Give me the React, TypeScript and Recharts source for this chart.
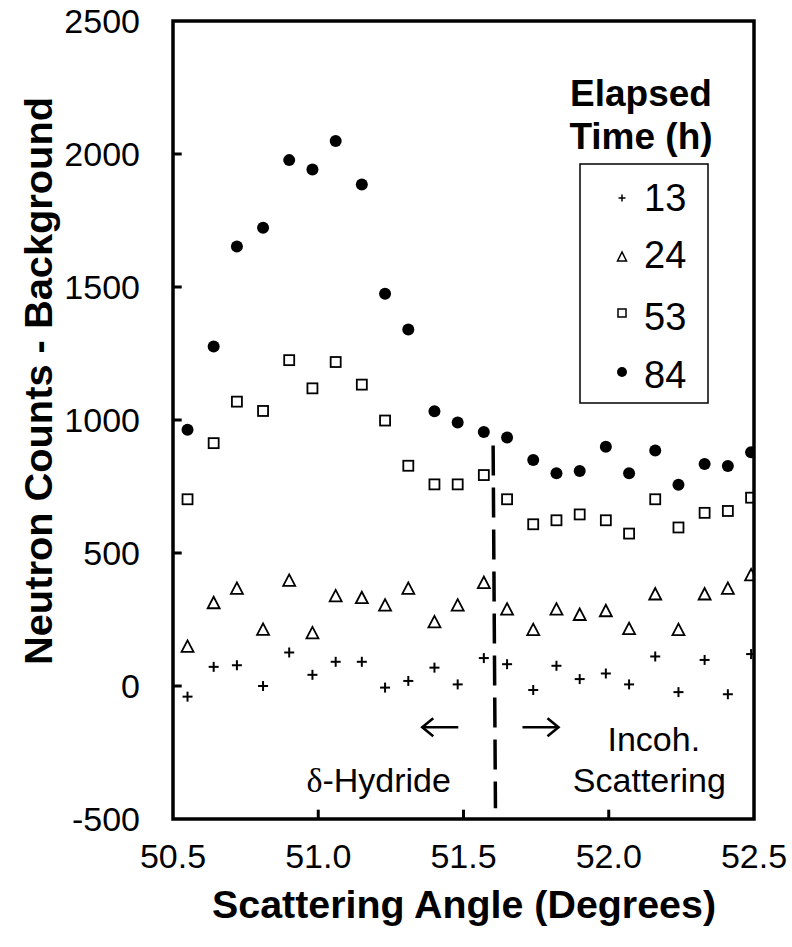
import React from 'react';
import {
  ScatterChart,
  Scatter,
  XAxis,
  YAxis,
  ReferenceArea,
  ReferenceLine,
  ReferenceDot,
  Legend,
  Label,
} from 'recharts';

// ---- data ----
const angles = [
  50.55, 50.64, 50.72, 50.81, 50.9, 50.98, 51.06, 51.15, 51.23, 51.31, 51.4, 51.48,
  51.57, 51.65, 51.74, 51.82, 51.9, 51.99, 52.07, 52.16, 52.24, 52.33, 52.41, 52.49,
];
const h13 = [-40, 72, 78, 0, 126, 42, 91, 91, -6, 19, 69, 6, 105, 82, -15, 76, 26, 47, 6, 111, -23, 98, -31, 120];
const h24 = [147, 311, 365, 211, 395, 198, 337, 330, 302, 365, 239, 302, 387, 287, 210, 287, 267, 281, 214, 344, 210, 344, 365, 416];
const h53 = [702, 913, 1069, 1034, 1225, 1119, 1218, 1133, 998, 828, 758, 758, 793, 702, 608, 623, 645, 623, 573, 702, 596, 651, 658, 708];
const h84 = [963, 1276, 1652, 1723, 1977, 1942, 2049, 1885, 1475, 1340, 1033, 991, 955, 934, 850, 800, 808, 899, 800, 885, 757, 835, 827, 879];

const seriesNames = ['13', '24', '53', '84'];
const xTicks = [50.5, 51.0, 51.5, 52.0, 52.5];
const yTicks = [-500, 0, 500, 1000, 1500, 2000, 2500];
const xInnerTicks = [51.0, 51.5, 52.0];
const yInnerTicks = [0, 500, 1000, 1500, 2000];

const xDomain = [50.5, 52.5];
const yDomain = [-500, 2500];

// divider line and annotations (data coordinates)
const dividerTop = { x: 51.602, y: 904 };
const dividerBottom = { x: 51.61, y: -460 };
const hydrideLabel = { x: 51.208, y: -397 };
const incohLabel = { x: 52.155, y: -245 };
const scatLabel = { x: 52.14, y: -397 };
const leftArrow = { x: 51.42, y: -155 };
const rightArrow = { x: 51.765, y: -155 };

const FONT = '"Liberation Sans", Arial, Helvetica, sans-serif';

const toPoints = (vals: number[]) => angles.map((a, i) => ({ x: a, y: vals[i] }));

// ---- marker shapes ----
const PlusShape = (p: any) => {
  const { cx, cy } = p;
  const s = 5;
  return (
    <g stroke="#000" strokeWidth={2}>
      <line x1={cx - s} y1={cy} x2={cx + s} y2={cy} />
      <line x1={cx} y1={cy - s} x2={cx} y2={cy + s} />
    </g>
  );
};
const TriShape = (p: any) => {
  const { cx, cy } = p;
  return (
    <polygon
      points={`${cx},${cy - 6.5} ${cx - 6},${cy + 5} ${cx + 6},${cy + 5}`}
      fill="none"
      stroke="#000"
      strokeWidth={1.8}
    />
  );
};
const SquareShape = (p: any) => {
  const { cx, cy } = p;
  return <rect x={cx - 5} y={cy - 5} width={10} height={10} fill="none" stroke="#000" strokeWidth={1.8} />;
};
const DotShape = (p: any) => {
  const { cx, cy } = p;
  return <circle cx={cx} cy={cy} r={6} fill="#000" />;
};

const legendSymbol = (name: string, x: number, y: number) => {
  if (name === '13')
    return (
      <g stroke="#000" strokeWidth={1.5}>
        <line x1={x - 3.5} y1={y} x2={x + 3.5} y2={y} />
        <line x1={x} y1={y - 3.5} x2={x} y2={y + 3.5} />
      </g>
    );
  if (name === '24')
    return (
      <polygon
        points={`${x},${y - 5} ${x - 4.5},${y + 4} ${x + 4.5},${y + 4}`}
        fill="none"
        stroke="#000"
        strokeWidth={1.5}
      />
    );
  if (name === '53')
    return <rect x={x - 4} y={y - 4} width={8} height={8} fill="none" stroke="#000" strokeWidth={1.5} />;
  return <circle cx={x} cy={y} r={5} fill="#000" />;
};

const legendSymY = [148, 207, 263, 322];
const legendTextY = [161, 218, 280, 338];

const renderLegend = () => (
  <svg width={200} height={370} style={{ display: 'block', fontFamily: FONT }}>
    <text x={81} y={56} textAnchor="middle" fontWeight="bold" fontSize={37} fill="#000">
      Elapsed
    </text>
    <text x={81} y={99} textAnchor="middle" fontWeight="bold" fontSize={37} fill="#000">
      Time (h)
    </text>
    <rect x={20} y={114} width={128} height={239} fill="#fff" stroke="#000" strokeWidth={1.5} />
    {seriesNames.map((n, i) => (
      <g key={n}>
        {legendSymbol(n, 62, legendSymY[i])}
        <text x={84} y={legendTextY[i]} fontSize={38} fill="#000">
          {n}
        </text>
      </g>
    ))}
  </svg>
);

const arrowShape = (dir: number) => (p: any) => {
  const { cx, cy } = p;
  const half = 18;
  const tip = cx + dir * half;
  return (
    <g stroke="#000" strokeWidth={2.6} fill="none" strokeLinecap="butt">
      <line x1={cx - half} y1={cy} x2={cx + half} y2={cy} />
      <polyline points={`${tip - dir * 11},${cy - 9} ${tip},${cy} ${tip - dir * 11},${cy + 9}`} />
    </g>
  );
};

const textShape = (content: React.ReactNode) => (p: any) => (
  <text x={p.cx} y={p.cy} textAnchor="middle" fontSize={34} fill="#000" fontFamily={FONT}>
    {content}
  </text>
);

export default function App() {
  return (
    <div style={{ position: 'absolute', left: 0, top: 0, width: 792, height: 947, background: '#fff' }}>
      <ScatterChart
        width={792}
        height={947}
        margin={{ top: 21, right: 38, bottom: 0, left: 0 }}
        style={{ fontFamily: FONT }}
      >
        <XAxis
          type="number"
          dataKey="x"
          domain={xDomain}
          ticks={xTicks}
          allowDataOverflow
          height={128}
          tickSize={0}
          tickMargin={25}
          axisLine={false}
          tickLine={false}
          tick={{ fontSize: 34, fill: '#000', fontFamily: FONT }}
          tickFormatter={(v: number) => v.toFixed(1)}
        >
          <Label
            content={() => (
              <text
                x={464}
                y={918}
                textAnchor="middle"
                fontWeight="bold"
                fontSize={38}
                fill="#000"
                fontFamily={FONT}
                textLength={504}
                lengthAdjust="spacingAndGlyphs"
              >
                Scattering Angle (Degrees)
              </text>
            )}
          />
        </XAxis>
        <YAxis
          type="number"
          dataKey="y"
          domain={yDomain}
          ticks={yTicks}
          allowDataOverflow
          width={173}
          tickSize={0}
          tickMargin={33}
          axisLine={false}
          tickLine={false}
          tick={{ fontSize: 34, fill: '#000', fontFamily: FONT }}
        >
          <Label
            content={() => (
              <text
                x={0}
                y={0}
                transform="translate(52,381) rotate(-90)"
                textAnchor="middle"
                fontWeight="bold"
                fontSize={38}
                fill="#000"
                fontFamily={FONT}
                textLength={568}
                lengthAdjust="spacingAndGlyphs"
              >
                Neutron Counts - Background
              </text>
            )}
          />
        </YAxis>

        <ReferenceArea
          x1={xDomain[0]}
          x2={xDomain[1]}
          y1={yDomain[0]}
          y2={yDomain[1]}
          fill="none"
          fillOpacity={0}
          stroke="#000"
          strokeWidth={3.5}
          ifOverflow="visible"
        />
        {yInnerTicks.map((v) => (
          <ReferenceLine
            key={'yt' + v}
            segment={[
              { x: xDomain[0], y: v },
              { x: xDomain[0] + 0.03, y: v },
            ]}
            stroke="#000"
            strokeWidth={3}
            ifOverflow="visible"
          />
        ))}
        {xInnerTicks.map((v) => (
          <ReferenceLine
            key={'xt' + v}
            segment={[
              { x: v, y: yDomain[0] },
              { x: v, y: yDomain[0] + 35 },
            ]}
            stroke="#000"
            strokeWidth={3}
            ifOverflow="visible"
          />
        ))}

        <ReferenceLine
          segment={[dividerTop, dividerBottom]}
          stroke="#000"
          strokeWidth={3.5}
          strokeDasharray="30 12"
          ifOverflow="visible"
        />
        <ReferenceDot x={leftArrow.x} y={leftArrow.y} r={0} shape={arrowShape(-1)} ifOverflow="visible" />
        <ReferenceDot x={rightArrow.x} y={rightArrow.y} r={0} shape={arrowShape(1)} ifOverflow="visible" />
        <ReferenceDot
          x={hydrideLabel.x}
          y={hydrideLabel.y}
          r={0}
          ifOverflow="visible"
          shape={textShape(
            <>
              <tspan fontFamily='"Liberation Serif", "Times New Roman", serif'>δ</tspan>-Hydride
            </>
          )}
        />
        <ReferenceDot x={incohLabel.x} y={incohLabel.y} r={0} ifOverflow="visible" shape={textShape('Incoh.')} />
        <ReferenceDot x={scatLabel.x} y={scatLabel.y} r={0} ifOverflow="visible" shape={textShape('Scattering')} />

        <Scatter name="13" data={toPoints(h13)} shape={PlusShape} isAnimationActive={false} />
        <Scatter name="24" data={toPoints(h24)} shape={TriShape} isAnimationActive={false} />
        <Scatter name="53" data={toPoints(h53)} shape={SquareShape} isAnimationActive={false} />
        <Scatter name="84" data={toPoints(h84)} shape={DotShape} isAnimationActive={false} />

        <Legend
          layout="vertical"
          align="center"
          verticalAlign="middle"
          content={renderLegend}
          wrapperStyle={{ position: 'absolute', left: 560, top: 50, width: 200, height: 370 }}
        />
      </ScatterChart>
    </div>
  );
}
